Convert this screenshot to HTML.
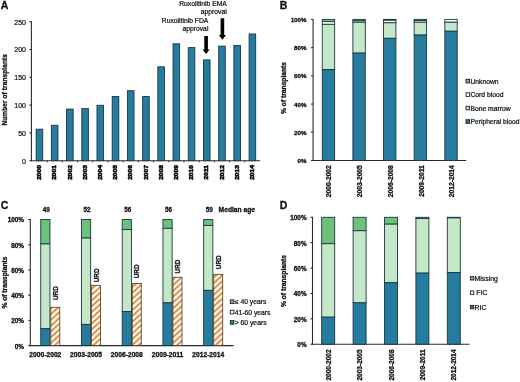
<!DOCTYPE html>
<html><head><meta charset="utf-8"><style>
html,body{margin:0;padding:0;background:#fff;width:520px;height:382px;overflow:hidden}
svg{display:block;filter:blur(0.3px)}
text{font-family:"Liberation Sans",sans-serif}
</style></head><body>
<svg width="520" height="382" viewBox="0 0 520 382">
<rect width="520" height="382" fill="#fff"/>
<text x="0.70" y="9.30" font-size="10.5" font-weight="bold" text-anchor="start" fill="#111" stroke="#111" stroke-width="0.3">A</text>
<line x1="31.40" y1="21.20" x2="31.40" y2="161.20" stroke="#2a2a2a" stroke-width="1.1"/>
<line x1="29.40" y1="160.70" x2="31.40" y2="160.70" stroke="#2a2a2a" stroke-width="1.1"/>
<text x="26.00" y="163.60" font-size="7" font-weight="normal" text-anchor="end" fill="#111" stroke="#111" stroke-width="0.22">0</text>
<line x1="29.40" y1="132.90" x2="31.40" y2="132.90" stroke="#2a2a2a" stroke-width="1.1"/>
<text x="26.00" y="135.80" font-size="7" font-weight="normal" text-anchor="end" fill="#111" stroke="#111" stroke-width="0.22">50</text>
<line x1="29.40" y1="105.10" x2="31.40" y2="105.10" stroke="#2a2a2a" stroke-width="1.1"/>
<text x="26.00" y="108.00" font-size="7" font-weight="normal" text-anchor="end" fill="#111" stroke="#111" stroke-width="0.22">100</text>
<line x1="29.40" y1="77.30" x2="31.40" y2="77.30" stroke="#2a2a2a" stroke-width="1.1"/>
<text x="26.00" y="80.20" font-size="7" font-weight="normal" text-anchor="end" fill="#111" stroke="#111" stroke-width="0.22">150</text>
<line x1="29.40" y1="49.50" x2="31.40" y2="49.50" stroke="#2a2a2a" stroke-width="1.1"/>
<text x="26.00" y="52.40" font-size="7" font-weight="normal" text-anchor="end" fill="#111" stroke="#111" stroke-width="0.22">200</text>
<line x1="29.40" y1="21.70" x2="31.40" y2="21.70" stroke="#2a2a2a" stroke-width="1.1"/>
<text x="26.00" y="24.60" font-size="7" font-weight="normal" text-anchor="end" fill="#111" stroke="#111" stroke-width="0.22">250</text>
<line x1="30.90" y1="160.70" x2="260.00" y2="160.70" stroke="#2a2a2a" stroke-width="1.1"/>
<line x1="47.06" y1="160.70" x2="47.06" y2="162.30" stroke="#2a2a2a" stroke-width="1.1"/>
<line x1="62.27" y1="160.70" x2="62.27" y2="162.30" stroke="#2a2a2a" stroke-width="1.1"/>
<line x1="77.48" y1="160.70" x2="77.48" y2="162.30" stroke="#2a2a2a" stroke-width="1.1"/>
<line x1="92.69" y1="160.70" x2="92.69" y2="162.30" stroke="#2a2a2a" stroke-width="1.1"/>
<line x1="107.90" y1="160.70" x2="107.90" y2="162.30" stroke="#2a2a2a" stroke-width="1.1"/>
<line x1="123.11" y1="160.70" x2="123.11" y2="162.30" stroke="#2a2a2a" stroke-width="1.1"/>
<line x1="138.31" y1="160.70" x2="138.31" y2="162.30" stroke="#2a2a2a" stroke-width="1.1"/>
<line x1="153.53" y1="160.70" x2="153.53" y2="162.30" stroke="#2a2a2a" stroke-width="1.1"/>
<line x1="168.74" y1="160.70" x2="168.74" y2="162.30" stroke="#2a2a2a" stroke-width="1.1"/>
<line x1="183.95" y1="160.70" x2="183.95" y2="162.30" stroke="#2a2a2a" stroke-width="1.1"/>
<line x1="199.16" y1="160.70" x2="199.16" y2="162.30" stroke="#2a2a2a" stroke-width="1.1"/>
<line x1="214.37" y1="160.70" x2="214.37" y2="162.30" stroke="#2a2a2a" stroke-width="1.1"/>
<line x1="229.58" y1="160.70" x2="229.58" y2="162.30" stroke="#2a2a2a" stroke-width="1.1"/>
<line x1="244.78" y1="160.70" x2="244.78" y2="162.30" stroke="#2a2a2a" stroke-width="1.1"/>
<rect x="36.15" y="129.20" width="6.60" height="31.50" fill="#267c9e" stroke="#1a3744" stroke-width="0.9"/>
<text transform="translate(41.15 165.1) rotate(-90) scale(1.05 0.8)" font-size="6.3" font-weight="bold" text-anchor="end" fill="#111" stroke="#111" stroke-width="0.7">2000</text>
<rect x="51.36" y="125.30" width="6.60" height="35.40" fill="#267c9e" stroke="#1a3744" stroke-width="0.9"/>
<text transform="translate(56.36 165.1) rotate(-90) scale(1.05 0.8)" font-size="6.3" font-weight="bold" text-anchor="end" fill="#111" stroke="#111" stroke-width="0.7">2001</text>
<rect x="66.57" y="109.10" width="6.60" height="51.60" fill="#267c9e" stroke="#1a3744" stroke-width="0.9"/>
<text transform="translate(71.57 165.1) rotate(-90) scale(1.05 0.8)" font-size="6.3" font-weight="bold" text-anchor="end" fill="#111" stroke="#111" stroke-width="0.7">2002</text>
<rect x="81.78" y="108.60" width="6.60" height="52.10" fill="#267c9e" stroke="#1a3744" stroke-width="0.9"/>
<text transform="translate(86.78 165.1) rotate(-90) scale(1.05 0.8)" font-size="6.3" font-weight="bold" text-anchor="end" fill="#111" stroke="#111" stroke-width="0.7">2003</text>
<rect x="96.99" y="105.30" width="6.60" height="55.40" fill="#267c9e" stroke="#1a3744" stroke-width="0.9"/>
<text transform="translate(101.99 165.1) rotate(-90) scale(1.05 0.8)" font-size="6.3" font-weight="bold" text-anchor="end" fill="#111" stroke="#111" stroke-width="0.7">2004</text>
<rect x="112.20" y="96.50" width="6.60" height="64.20" fill="#267c9e" stroke="#1a3744" stroke-width="0.9"/>
<text transform="translate(117.20 165.1) rotate(-90) scale(1.05 0.8)" font-size="6.3" font-weight="bold" text-anchor="end" fill="#111" stroke="#111" stroke-width="0.7">2005</text>
<rect x="127.41" y="90.70" width="6.60" height="70.00" fill="#267c9e" stroke="#1a3744" stroke-width="0.9"/>
<text transform="translate(132.41 165.1) rotate(-90) scale(1.05 0.8)" font-size="6.3" font-weight="bold" text-anchor="end" fill="#111" stroke="#111" stroke-width="0.7">2006</text>
<rect x="142.62" y="96.50" width="6.60" height="64.20" fill="#267c9e" stroke="#1a3744" stroke-width="0.9"/>
<text transform="translate(147.62 165.1) rotate(-90) scale(1.05 0.8)" font-size="6.3" font-weight="bold" text-anchor="end" fill="#111" stroke="#111" stroke-width="0.7">2007</text>
<rect x="157.83" y="66.80" width="6.60" height="93.90" fill="#267c9e" stroke="#1a3744" stroke-width="0.9"/>
<text transform="translate(162.83 165.1) rotate(-90) scale(1.05 0.8)" font-size="6.3" font-weight="bold" text-anchor="end" fill="#111" stroke="#111" stroke-width="0.7">2008</text>
<rect x="173.04" y="43.80" width="6.60" height="116.90" fill="#267c9e" stroke="#1a3744" stroke-width="0.9"/>
<text transform="translate(178.04 165.1) rotate(-90) scale(1.05 0.8)" font-size="6.3" font-weight="bold" text-anchor="end" fill="#111" stroke="#111" stroke-width="0.7">2009</text>
<rect x="188.25" y="47.60" width="6.60" height="113.10" fill="#267c9e" stroke="#1a3744" stroke-width="0.9"/>
<text transform="translate(193.25 165.1) rotate(-90) scale(1.05 0.8)" font-size="6.3" font-weight="bold" text-anchor="end" fill="#111" stroke="#111" stroke-width="0.7">2010</text>
<rect x="203.46" y="59.90" width="6.60" height="100.80" fill="#267c9e" stroke="#1a3744" stroke-width="0.9"/>
<text transform="translate(208.46 165.1) rotate(-90) scale(1.05 0.8)" font-size="6.3" font-weight="bold" text-anchor="end" fill="#111" stroke="#111" stroke-width="0.7">2011</text>
<rect x="218.67" y="46.10" width="6.60" height="114.60" fill="#267c9e" stroke="#1a3744" stroke-width="0.9"/>
<text transform="translate(223.67 165.1) rotate(-90) scale(1.05 0.8)" font-size="6.3" font-weight="bold" text-anchor="end" fill="#111" stroke="#111" stroke-width="0.7">2012</text>
<rect x="233.88" y="45.50" width="6.60" height="115.20" fill="#267c9e" stroke="#1a3744" stroke-width="0.9"/>
<text transform="translate(238.88 165.1) rotate(-90) scale(1.05 0.8)" font-size="6.3" font-weight="bold" text-anchor="end" fill="#111" stroke="#111" stroke-width="0.7">2013</text>
<rect x="249.09" y="34.00" width="6.60" height="126.70" fill="#267c9e" stroke="#1a3744" stroke-width="0.9"/>
<text transform="translate(254.09 165.1) rotate(-90) scale(1.05 0.8)" font-size="6.3" font-weight="bold" text-anchor="end" fill="#111" stroke="#111" stroke-width="0.7">2014</text>
<text x="7.00" y="89.85" font-size="6.43" font-weight="bold" text-anchor="middle" fill="#111" stroke="#111" stroke-width="0.3" transform="rotate(-90 7.00 89.85)" textLength="71.48">Number of transplants</text>
<text x="226.80" y="6.35" font-size="6.75" font-weight="normal" text-anchor="end" fill="#111" stroke="#111" stroke-width="0.22">Ruxolitinib EMA</text>
<text x="226.70" y="13.50" font-size="6.75" font-weight="normal" text-anchor="end" fill="#111" stroke="#111" stroke-width="0.22">approval</text>
<text x="208.30" y="22.90" font-size="6.75" font-weight="normal" text-anchor="end" fill="#111" stroke="#111" stroke-width="0.22">Ruxolitinib FDA</text>
<text x="208.40" y="30.60" font-size="6.75" font-weight="normal" text-anchor="end" fill="#111" stroke="#111" stroke-width="0.22">approval</text>
<path d="M220.60,18.30 L224.20,18.30 L224.20,35.00 L226.00,35.00 L222.40,39.70 L218.80,35.00 L220.60,35.00 Z" fill="#000"/>
<path d="M204.30,36.00 L207.90,36.00 L207.90,49.40 L209.70,49.40 L206.10,53.90 L202.50,49.40 L204.30,49.40 Z" fill="#000"/>
<text x="279.80" y="9.00" font-size="10.5" font-weight="bold" text-anchor="start" fill="#111" stroke="#111" stroke-width="0.3">B</text>
<line x1="313.10" y1="18.90" x2="313.10" y2="161.00" stroke="#2a2a2a" stroke-width="1.1"/>
<line x1="311.10" y1="160.50" x2="313.10" y2="160.50" stroke="#2a2a2a" stroke-width="1.1"/>
<text x="306.50" y="163.10" font-size="6.2" font-weight="bold" text-anchor="end" fill="#111" stroke="#111" stroke-width="0.3">0%</text>
<line x1="311.10" y1="132.28" x2="313.10" y2="132.28" stroke="#2a2a2a" stroke-width="1.1"/>
<text x="306.50" y="134.88" font-size="6.2" font-weight="bold" text-anchor="end" fill="#111" stroke="#111" stroke-width="0.3">20%</text>
<line x1="311.10" y1="104.06" x2="313.10" y2="104.06" stroke="#2a2a2a" stroke-width="1.1"/>
<text x="306.50" y="106.66" font-size="6.2" font-weight="bold" text-anchor="end" fill="#111" stroke="#111" stroke-width="0.3">40%</text>
<line x1="311.10" y1="75.84" x2="313.10" y2="75.84" stroke="#2a2a2a" stroke-width="1.1"/>
<text x="306.50" y="78.44" font-size="6.2" font-weight="bold" text-anchor="end" fill="#111" stroke="#111" stroke-width="0.3">60%</text>
<line x1="311.10" y1="47.62" x2="313.10" y2="47.62" stroke="#2a2a2a" stroke-width="1.1"/>
<text x="306.50" y="50.22" font-size="6.2" font-weight="bold" text-anchor="end" fill="#111" stroke="#111" stroke-width="0.3">80%</text>
<line x1="311.10" y1="19.40" x2="313.10" y2="19.40" stroke="#2a2a2a" stroke-width="1.1"/>
<text x="306.50" y="22.00" font-size="6.2" font-weight="bold" text-anchor="end" fill="#111" stroke="#111" stroke-width="0.3">100%</text>
<line x1="312.60" y1="160.50" x2="466.20" y2="160.50" stroke="#2a2a2a" stroke-width="1.1"/>
<rect x="322.25" y="19.40" width="12.40" height="2.26" fill="#6cc27b" stroke="#1a3744" stroke-width="0.9"/>
<rect x="322.25" y="21.66" width="12.40" height="2.68" fill="#ffffff" stroke="#1a3744" stroke-width="0.9"/>
<rect x="322.25" y="24.34" width="12.40" height="45.29" fill="#c4e8c7" stroke="#1a3744" stroke-width="0.9"/>
<rect x="322.25" y="69.63" width="12.40" height="90.87" fill="#267c9e" stroke="#1a3744" stroke-width="0.9"/>
<text x="331.35" y="165.20" font-size="6.7" font-weight="bold" text-anchor="end" fill="#111" stroke="#111" stroke-width="0.3" transform="rotate(-90 331.35 165.20)">2000-2002</text>
<rect x="352.89" y="19.40" width="12.40" height="1.41" fill="#6cc27b" stroke="#1a3744" stroke-width="0.9"/>
<rect x="352.89" y="20.81" width="12.40" height="1.41" fill="#ffffff" stroke="#1a3744" stroke-width="0.9"/>
<rect x="352.89" y="22.22" width="12.40" height="30.90" fill="#c4e8c7" stroke="#1a3744" stroke-width="0.9"/>
<rect x="352.89" y="53.12" width="12.40" height="107.38" fill="#267c9e" stroke="#1a3744" stroke-width="0.9"/>
<text x="362.13" y="165.20" font-size="6.7" font-weight="bold" text-anchor="end" fill="#111" stroke="#111" stroke-width="0.3" transform="rotate(-90 362.13 165.20)">2003-2005</text>
<rect x="383.53" y="19.40" width="12.40" height="0.85" fill="#6cc27b" stroke="#1a3744" stroke-width="0.9"/>
<rect x="383.53" y="20.25" width="12.40" height="2.54" fill="#ffffff" stroke="#1a3744" stroke-width="0.9"/>
<rect x="383.53" y="22.79" width="12.40" height="15.52" fill="#c4e8c7" stroke="#1a3744" stroke-width="0.9"/>
<rect x="383.53" y="38.31" width="12.40" height="122.19" fill="#267c9e" stroke="#1a3744" stroke-width="0.9"/>
<text x="392.91" y="165.20" font-size="6.7" font-weight="bold" text-anchor="end" fill="#111" stroke="#111" stroke-width="0.3" transform="rotate(-90 392.91 165.20)">2006-2008</text>
<rect x="414.17" y="19.40" width="12.40" height="1.13" fill="#6cc27b" stroke="#1a3744" stroke-width="0.9"/>
<rect x="414.17" y="20.53" width="12.40" height="1.69" fill="#ffffff" stroke="#1a3744" stroke-width="0.9"/>
<rect x="414.17" y="22.22" width="12.40" height="12.84" fill="#c4e8c7" stroke="#1a3744" stroke-width="0.9"/>
<rect x="414.17" y="35.06" width="12.40" height="125.44" fill="#267c9e" stroke="#1a3744" stroke-width="0.9"/>
<text x="423.69" y="165.20" font-size="6.7" font-weight="bold" text-anchor="end" fill="#111" stroke="#111" stroke-width="0.3" transform="rotate(-90 423.69 165.20)">2009-2011</text>
<rect x="444.81" y="19.40" width="12.40" height="0.00" fill="#6cc27b" stroke="#1a3744" stroke-width="0.9"/>
<rect x="444.81" y="19.40" width="12.40" height="2.82" fill="#ffffff" stroke="#1a3744" stroke-width="0.9"/>
<rect x="444.81" y="22.22" width="12.40" height="9.03" fill="#c4e8c7" stroke="#1a3744" stroke-width="0.9"/>
<rect x="444.81" y="31.25" width="12.40" height="129.25" fill="#267c9e" stroke="#1a3744" stroke-width="0.9"/>
<text x="454.47" y="165.20" font-size="6.7" font-weight="bold" text-anchor="end" fill="#111" stroke="#111" stroke-width="0.3" transform="rotate(-90 454.47 165.20)">2012-2014</text>
<text x="286.20" y="87.95" font-size="6.7" font-weight="bold" text-anchor="middle" fill="#111" stroke="#111" stroke-width="0.3" transform="rotate(-90 286.20 87.95)">% of transplants</text>
<rect x="466.00" y="79.30" width="3.60" height="3.60" fill="#6cc27b" stroke="#222" stroke-width="0.9"/>
<text x="470.40" y="83.60" font-size="6.75" font-weight="normal" text-anchor="start" fill="#111" stroke="#111" stroke-width="0.22">Unknown</text>
<rect x="466.00" y="92.77" width="3.60" height="3.60" fill="#ffffff" stroke="#222" stroke-width="0.9"/>
<text x="470.40" y="97.07" font-size="6.75" font-weight="normal" text-anchor="start" fill="#111" stroke="#111" stroke-width="0.22">Cord blood</text>
<rect x="466.00" y="106.24" width="3.60" height="3.60" fill="#c4e8c7" stroke="#222" stroke-width="0.9"/>
<text x="470.40" y="110.54" font-size="6.75" font-weight="normal" text-anchor="start" fill="#111" stroke="#111" stroke-width="0.22">Bone marrow</text>
<rect x="466.00" y="119.71" width="3.60" height="3.60" fill="#267c9e" stroke="#222" stroke-width="0.9"/>
<text x="470.40" y="124.01" font-size="6.75" font-weight="normal" text-anchor="start" fill="#111" stroke="#111" stroke-width="0.22">Peripheral blood</text>
<text x="0.70" y="208.90" font-size="10.5" font-weight="bold" text-anchor="start" fill="#111" stroke="#111" stroke-width="0.3">C</text>
<line x1="30.30" y1="219.00" x2="30.30" y2="346.20" stroke="#2a2a2a" stroke-width="1.1"/>
<line x1="28.30" y1="345.60" x2="30.30" y2="345.60" stroke="#2a2a2a" stroke-width="1.1"/>
<text x="24.00" y="348.50" font-size="6.4" font-weight="bold" text-anchor="end" fill="#111" stroke="#111" stroke-width="0.3">0%</text>
<line x1="28.30" y1="320.38" x2="30.30" y2="320.38" stroke="#2a2a2a" stroke-width="1.1"/>
<text x="24.00" y="323.28" font-size="6.4" font-weight="bold" text-anchor="end" fill="#111" stroke="#111" stroke-width="0.3">20%</text>
<line x1="28.30" y1="295.16" x2="30.30" y2="295.16" stroke="#2a2a2a" stroke-width="1.1"/>
<text x="24.00" y="298.06" font-size="6.4" font-weight="bold" text-anchor="end" fill="#111" stroke="#111" stroke-width="0.3">40%</text>
<line x1="28.30" y1="269.94" x2="30.30" y2="269.94" stroke="#2a2a2a" stroke-width="1.1"/>
<text x="24.00" y="272.84" font-size="6.4" font-weight="bold" text-anchor="end" fill="#111" stroke="#111" stroke-width="0.3">60%</text>
<line x1="28.30" y1="244.72" x2="30.30" y2="244.72" stroke="#2a2a2a" stroke-width="1.1"/>
<text x="24.00" y="247.62" font-size="6.4" font-weight="bold" text-anchor="end" fill="#111" stroke="#111" stroke-width="0.3">80%</text>
<line x1="28.30" y1="219.50" x2="30.30" y2="219.50" stroke="#2a2a2a" stroke-width="1.1"/>
<text x="24.00" y="222.40" font-size="6.4" font-weight="bold" text-anchor="end" fill="#111" stroke="#111" stroke-width="0.3">100%</text>
<line x1="29.80" y1="345.60" x2="233.60" y2="345.60" stroke="#2a2a2a" stroke-width="1.1"/>
<defs><pattern id="h" patternUnits="userSpaceOnUse" width="4.3" height="4.3" patternTransform="rotate(48)"><rect width="4.3" height="4.3" fill="#fff6ea"/><rect width="1.7" height="4.3" fill="#dc8a40"/></pattern></defs>
<rect x="40.75" y="219.50" width="9.20" height="24.46" fill="#6cc27b" stroke="#1a3744" stroke-width="0.9"/>
<rect x="40.75" y="243.96" width="9.20" height="84.74" fill="#c4e8c7" stroke="#1a3744" stroke-width="0.9"/>
<rect x="40.75" y="328.70" width="9.20" height="16.90" fill="#267c9e" stroke="#1a3744" stroke-width="0.9"/>
<rect x="50.80" y="307.27" width="9.00" height="38.33" fill="url(#h)" stroke="#4a3520" stroke-width="0.8"/>
<text x="58.00" y="300.00" font-size="6.4" font-weight="bold" text-anchor="start" fill="#111" stroke="#111" stroke-width="0.3" transform="rotate(-90 58.00 300.00)">URD</text>
<text x="46.25" y="212.10" font-size="6.3" font-weight="bold" text-anchor="middle" fill="#111" stroke="#111" stroke-width="0.3">49</text>
<text x="45.35" y="356.70" font-size="6.7" font-weight="bold" text-anchor="middle" fill="#111" stroke="#111" stroke-width="0.3">2000-2002</text>
<rect x="81.48" y="219.50" width="9.20" height="18.54" fill="#6cc27b" stroke="#1a3744" stroke-width="0.9"/>
<rect x="81.48" y="238.04" width="9.20" height="86.38" fill="#c4e8c7" stroke="#1a3744" stroke-width="0.9"/>
<rect x="81.48" y="324.42" width="9.20" height="21.18" fill="#267c9e" stroke="#1a3744" stroke-width="0.9"/>
<rect x="91.53" y="285.32" width="9.00" height="60.28" fill="url(#h)" stroke="#4a3520" stroke-width="0.8"/>
<text x="98.73" y="282.30" font-size="6.4" font-weight="bold" text-anchor="start" fill="#111" stroke="#111" stroke-width="0.3" transform="rotate(-90 98.73 282.30)">URD</text>
<text x="86.98" y="212.10" font-size="6.3" font-weight="bold" text-anchor="middle" fill="#111" stroke="#111" stroke-width="0.3">52</text>
<text x="86.08" y="356.70" font-size="6.7" font-weight="bold" text-anchor="middle" fill="#111" stroke="#111" stroke-width="0.3">2003-2005</text>
<rect x="122.21" y="219.50" width="9.20" height="10.09" fill="#6cc27b" stroke="#1a3744" stroke-width="0.9"/>
<rect x="122.21" y="229.59" width="9.20" height="81.96" fill="#c4e8c7" stroke="#1a3744" stroke-width="0.9"/>
<rect x="122.21" y="311.55" width="9.20" height="34.05" fill="#267c9e" stroke="#1a3744" stroke-width="0.9"/>
<rect x="132.26" y="283.43" width="9.00" height="62.17" fill="url(#h)" stroke="#4a3520" stroke-width="0.8"/>
<text x="139.46" y="278.30" font-size="6.4" font-weight="bold" text-anchor="start" fill="#111" stroke="#111" stroke-width="0.3" transform="rotate(-90 139.46 278.30)">URD</text>
<text x="127.71" y="212.10" font-size="6.3" font-weight="bold" text-anchor="middle" fill="#111" stroke="#111" stroke-width="0.3">56</text>
<text x="126.81" y="356.70" font-size="6.7" font-weight="bold" text-anchor="middle" fill="#111" stroke="#111" stroke-width="0.3">2006-2008</text>
<rect x="162.94" y="219.50" width="9.20" height="8.83" fill="#6cc27b" stroke="#1a3744" stroke-width="0.9"/>
<rect x="162.94" y="228.33" width="9.20" height="74.53" fill="#c4e8c7" stroke="#1a3744" stroke-width="0.9"/>
<rect x="162.94" y="302.85" width="9.20" height="42.75" fill="#267c9e" stroke="#1a3744" stroke-width="0.9"/>
<rect x="172.99" y="277.25" width="9.00" height="68.35" fill="url(#h)" stroke="#4a3520" stroke-width="0.8"/>
<text x="180.19" y="273.40" font-size="6.4" font-weight="bold" text-anchor="start" fill="#111" stroke="#111" stroke-width="0.3" transform="rotate(-90 180.19 273.40)">URD</text>
<text x="168.44" y="212.10" font-size="6.3" font-weight="bold" text-anchor="middle" fill="#111" stroke="#111" stroke-width="0.3">56</text>
<text x="167.54" y="356.70" font-size="6.7" font-weight="bold" text-anchor="middle" fill="#111" stroke="#111" stroke-width="0.3">2009-2011</text>
<rect x="203.67" y="219.50" width="9.20" height="5.93" fill="#6cc27b" stroke="#1a3744" stroke-width="0.9"/>
<rect x="203.67" y="225.43" width="9.20" height="64.94" fill="#c4e8c7" stroke="#1a3744" stroke-width="0.9"/>
<rect x="203.67" y="290.37" width="9.20" height="55.23" fill="#267c9e" stroke="#1a3744" stroke-width="0.9"/>
<rect x="213.72" y="274.35" width="9.00" height="71.25" fill="url(#h)" stroke="#4a3520" stroke-width="0.8"/>
<text x="220.92" y="269.20" font-size="6.4" font-weight="bold" text-anchor="start" fill="#111" stroke="#111" stroke-width="0.3" transform="rotate(-90 220.92 269.20)">URD</text>
<text x="209.17" y="212.10" font-size="6.3" font-weight="bold" text-anchor="middle" fill="#111" stroke="#111" stroke-width="0.3">59</text>
<text x="208.27" y="356.70" font-size="6.7" font-weight="bold" text-anchor="middle" fill="#111" stroke="#111" stroke-width="0.3">2012-2014</text>
<text x="218.60" y="212.10" font-size="6.7" font-weight="bold" text-anchor="start" fill="#111" stroke="#111" stroke-width="0.3">Median age</text>
<text x="7.30" y="282.60" font-size="6.7" font-weight="bold" text-anchor="middle" fill="#111" stroke="#111" stroke-width="0.3" transform="rotate(-90 7.30 282.60)">% of transplants</text>
<rect x="230.30" y="299.90" width="3.60" height="3.60" fill="#6cc27b" stroke="#222" stroke-width="0.9"/>
<text x="234.80" y="304.20" font-size="6.75" font-weight="normal" text-anchor="start" fill="#111" stroke="#111" stroke-width="0.22">&#8804; 40 years</text>
<rect x="230.30" y="310.25" width="3.60" height="3.60" fill="#ffffff" stroke="#222" stroke-width="0.9"/>
<text x="234.80" y="314.55" font-size="6.75" font-weight="normal" text-anchor="start" fill="#111" stroke="#111" stroke-width="0.22">41-60 years</text>
<rect x="230.30" y="320.60" width="3.60" height="3.60" fill="#267c9e" stroke="#222" stroke-width="0.9"/>
<text x="234.80" y="324.90" font-size="6.75" font-weight="normal" text-anchor="start" fill="#111" stroke="#111" stroke-width="0.22">&gt; 60 years</text>
<text x="279.80" y="208.60" font-size="10.5" font-weight="bold" text-anchor="start" fill="#111" stroke="#111" stroke-width="0.3">D</text>
<line x1="312.50" y1="216.80" x2="312.50" y2="344.70" stroke="#2a2a2a" stroke-width="1.1"/>
<line x1="310.50" y1="344.20" x2="312.50" y2="344.20" stroke="#2a2a2a" stroke-width="1.1"/>
<text x="306.60" y="347.10" font-size="6.4" font-weight="bold" text-anchor="end" fill="#111" stroke="#111" stroke-width="0.3">0%</text>
<line x1="310.50" y1="318.82" x2="312.50" y2="318.82" stroke="#2a2a2a" stroke-width="1.1"/>
<text x="306.60" y="321.72" font-size="6.4" font-weight="bold" text-anchor="end" fill="#111" stroke="#111" stroke-width="0.3">20%</text>
<line x1="310.50" y1="293.44" x2="312.50" y2="293.44" stroke="#2a2a2a" stroke-width="1.1"/>
<text x="306.60" y="296.34" font-size="6.4" font-weight="bold" text-anchor="end" fill="#111" stroke="#111" stroke-width="0.3">40%</text>
<line x1="310.50" y1="268.06" x2="312.50" y2="268.06" stroke="#2a2a2a" stroke-width="1.1"/>
<text x="306.60" y="270.96" font-size="6.4" font-weight="bold" text-anchor="end" fill="#111" stroke="#111" stroke-width="0.3">60%</text>
<line x1="310.50" y1="242.68" x2="312.50" y2="242.68" stroke="#2a2a2a" stroke-width="1.1"/>
<text x="306.60" y="245.58" font-size="6.4" font-weight="bold" text-anchor="end" fill="#111" stroke="#111" stroke-width="0.3">80%</text>
<line x1="310.50" y1="217.30" x2="312.50" y2="217.30" stroke="#2a2a2a" stroke-width="1.1"/>
<text x="306.60" y="220.20" font-size="6.4" font-weight="bold" text-anchor="end" fill="#111" stroke="#111" stroke-width="0.3">100%</text>
<line x1="312.00" y1="344.20" x2="469.60" y2="344.20" stroke="#2a2a2a" stroke-width="1.1"/>
<rect x="321.70" y="217.30" width="13.00" height="26.40" fill="#6cc27b" stroke="#1a3744" stroke-width="0.9"/>
<rect x="321.70" y="243.70" width="13.00" height="73.48" fill="#c4e8c7" stroke="#1a3744" stroke-width="0.9"/>
<rect x="321.70" y="317.17" width="13.00" height="27.03" fill="#267c9e" stroke="#1a3744" stroke-width="0.9"/>
<text x="330.90" y="349.40" font-size="6.5" font-weight="bold" text-anchor="end" fill="#111" stroke="#111" stroke-width="0.3" transform="rotate(-90 330.90 349.40)">2000-2002</text>
<rect x="353.10" y="217.30" width="13.00" height="13.45" fill="#6cc27b" stroke="#1a3744" stroke-width="0.9"/>
<rect x="353.10" y="230.75" width="13.00" height="72.08" fill="#c4e8c7" stroke="#1a3744" stroke-width="0.9"/>
<rect x="353.10" y="302.83" width="13.00" height="41.37" fill="#267c9e" stroke="#1a3744" stroke-width="0.9"/>
<text x="362.30" y="349.40" font-size="6.5" font-weight="bold" text-anchor="end" fill="#111" stroke="#111" stroke-width="0.3" transform="rotate(-90 362.30 349.40)">2003-2005</text>
<rect x="384.50" y="217.30" width="13.00" height="6.85" fill="#6cc27b" stroke="#1a3744" stroke-width="0.9"/>
<rect x="384.50" y="224.15" width="13.00" height="58.63" fill="#c4e8c7" stroke="#1a3744" stroke-width="0.9"/>
<rect x="384.50" y="282.78" width="13.00" height="61.42" fill="#267c9e" stroke="#1a3744" stroke-width="0.9"/>
<text x="393.70" y="349.40" font-size="6.5" font-weight="bold" text-anchor="end" fill="#111" stroke="#111" stroke-width="0.3" transform="rotate(-90 393.70 349.40)">2006-2008</text>
<rect x="415.90" y="217.30" width="13.00" height="1.27" fill="#6cc27b" stroke="#1a3744" stroke-width="0.9"/>
<rect x="415.90" y="218.57" width="13.00" height="54.57" fill="#c4e8c7" stroke="#1a3744" stroke-width="0.9"/>
<rect x="415.90" y="273.14" width="13.00" height="71.06" fill="#267c9e" stroke="#1a3744" stroke-width="0.9"/>
<text x="425.10" y="349.40" font-size="6.5" font-weight="bold" text-anchor="end" fill="#111" stroke="#111" stroke-width="0.3" transform="rotate(-90 425.10 349.40)">2009-2011</text>
<rect x="447.30" y="217.30" width="13.00" height="0.63" fill="#6cc27b" stroke="#1a3744" stroke-width="0.9"/>
<rect x="447.30" y="217.93" width="13.00" height="54.57" fill="#c4e8c7" stroke="#1a3744" stroke-width="0.9"/>
<rect x="447.30" y="272.50" width="13.00" height="71.70" fill="#267c9e" stroke="#1a3744" stroke-width="0.9"/>
<text x="456.50" y="349.40" font-size="6.5" font-weight="bold" text-anchor="end" fill="#111" stroke="#111" stroke-width="0.3" transform="rotate(-90 456.50 349.40)">2012-2014</text>
<text x="286.20" y="281.00" font-size="6.7" font-weight="bold" text-anchor="middle" fill="#111" stroke="#111" stroke-width="0.3" transform="rotate(-90 286.20 281.00)">% of transplants</text>
<rect x="470.40" y="276.60" width="3.40" height="3.40" fill="#6cc27b" stroke="#222" stroke-width="0.9"/>
<text x="474.60" y="280.80" font-size="6.9" font-weight="normal" text-anchor="start" fill="#111" stroke="#111" stroke-width="0.22">Missing</text>
<rect x="470.40" y="291.00" width="3.40" height="3.40" fill="#ffffff" stroke="#222" stroke-width="0.9"/>
<text x="476.30" y="295.20" font-size="6.9" font-weight="normal" text-anchor="start" fill="#111" stroke="#111" stroke-width="0.22">FIC</text>
<rect x="470.40" y="305.40" width="3.40" height="3.40" fill="#267c9e" stroke="#222" stroke-width="0.9"/>
<text x="474.60" y="309.60" font-size="6.9" font-weight="normal" text-anchor="start" fill="#111" stroke="#111" stroke-width="0.22">RIC</text>
</svg>
</body></html>
